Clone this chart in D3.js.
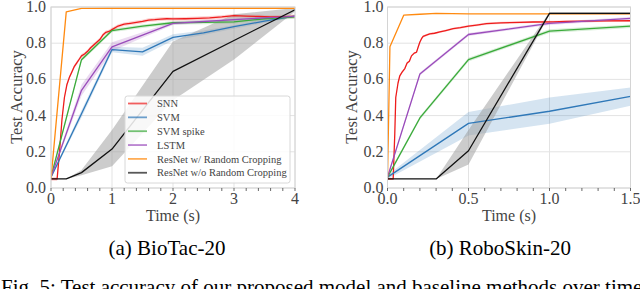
<!DOCTYPE html>
<html><head><meta charset="utf-8">
<script src="https://cdn.jsdelivr.net/npm/d3@7"></script>
<style>body{margin:0;background:#fff}svg{display:block}</style></head>
<body>
<svg id="c" width="640" height="289"></svg>
<script>
// ---------- DATA ----------
const seriesNames = ["SNN", "SVM", "SVM spike", "LSTM", "ResNet w/ Random Cropping", "ResNet w/o Random Cropping"];
const yTicks = [0.0, 0.2, 0.4, 0.6, 0.8, 1.0];
const xTicksA = [0, 1, 2, 3, 4];
const xTicksB = [0.0, 0.5, 1.0, 1.5];
const captions = ["(a) BioTac-20", "(b) RoboSkin-20"];

// Panel A: BioTac-20
const snnA_x = [0, 0.1, 0.14, 0.18, 0.22, 0.26, 0.3, 0.34, 0.38, 0.42, 0.46, 0.5, 0.55, 0.6, 0.65, 0.7, 0.75, 0.8, 0.85, 0.9, 0.95, 1.0, 1.1, 1.2, 1.3, 1.4, 1.5, 1.6, 1.7, 1.8, 1.9, 2.0, 2.2, 2.4, 2.6, 2.8, 3.0, 3.2, 3.4, 3.6, 3.8, 4.0];
const snnA_y = [0.05, 0.05, 0.2, 0.38, 0.5, 0.57, 0.61, 0.64, 0.67, 0.69, 0.71, 0.73, 0.74, 0.755, 0.775, 0.79, 0.805, 0.82, 0.845, 0.86, 0.865, 0.875, 0.895, 0.905, 0.91, 0.915, 0.92, 0.928, 0.93, 0.933, 0.935, 0.934, 0.935, 0.937, 0.94, 0.945, 0.952, 0.95, 0.948, 0.945, 0.947, 0.948];
const stepA_x = [0, 0.5, 1, 1.5, 2, 2.5, 3, 3.5, 4];
const svmA_y = [0.06, 0.41, 0.765, 0.752, 0.832, 0.857, 0.891, 0.922, 0.95];
const svmA_lo = [0.055, 0.39, 0.75, 0.73, 0.815, 0.845, 0.88, 0.912, 0.945];
const svmA_hi = [0.065, 0.43, 0.78, 0.775, 0.85, 0.87, 0.9, 0.932, 0.955];
const spikeA_y = [0.06, 0.709, 0.87, 0.894, 0.913, 0.915, 0.918, 0.935, 0.945];
const lstmA_y = [0.06, 0.54, 0.78, 0.845, 0.91, 0.92, 0.93, 0.94, 0.948];
const lstmA_lo = [0.055, 0.51, 0.755, 0.83, 0.9, 0.912, 0.922, 0.934, 0.944];
const lstmA_hi = [0.065, 0.57, 0.805, 0.86, 0.92, 0.928, 0.938, 0.946, 0.952];
const resA_x = [0, 0.25, 0.5, 1, 1.5, 2, 2.5, 3, 3.5, 4];
const resA_y = [0.05, 0.973, 0.992, 0.993, 0.993, 0.993, 0.993, 0.993, 0.993, 0.993];
const resnoA_x = [0, 0.25, 0.5, 1, 2, 3, 4];
const resnoA_y = [0.05, 0.05, 0.085, 0.215, 0.644, 0.815, 0.985];
const resnoA_lo = [0.05, 0.05, 0.07, 0.12, 0.485, 0.71, 0.975];
const resnoA_hi = [0.05, 0.05, 0.1, 0.32, 0.81, 0.96, 0.995];

// Panel B: RoboSkin-20
const snnB_x = [0, 0.035, 0.045, 0.051, 0.065, 0.076, 0.09, 0.107, 0.121, 0.135, 0.148, 0.165, 0.179, 0.19, 0.2, 0.21, 0.22, 0.24, 0.261, 0.29, 0.323, 0.36, 0.405, 0.45, 0.5, 0.55, 0.611, 0.7, 0.817, 0.9, 1.022, 1.1, 1.228, 1.35, 1.5];
const snnB_y = [0.05, 0.05, 0.3, 0.5, 0.58, 0.62, 0.64, 0.66, 0.69, 0.7, 0.73, 0.745, 0.75, 0.78, 0.807, 0.825, 0.838, 0.845, 0.852, 0.855, 0.862, 0.87, 0.88, 0.886, 0.894, 0.9, 0.908, 0.912, 0.915, 0.917, 0.918, 0.92, 0.922, 0.923, 0.924];
const stepB_x = [0, 0.2, 0.5, 1.0, 1.5];
const svmB_x = [0, 0.5, 1.0, 1.5];
const svmB_y = [0.06, 0.357, 0.424, 0.506];
const svmB_lo = [0.05, 0.29, 0.355, 0.455];
const svmB_hi = [0.07, 0.42, 0.5, 0.555];
const spikeB_y = [0.06, 0.387, 0.709, 0.867, 0.894];
const lstmB_y = [0.06, 0.63, 0.848, 0.909, 0.937];
const resB_x = [0, 0.015, 0.1, 0.2, 0.3, 0.5, 1.0, 1.5];
const resB_y = [0.05, 0.78, 0.955, 0.96, 0.965, 0.962, 0.962, 0.962];
const resnoB_x = [0, 0.3, 0.5, 1.0, 1.5];
const resnoB_y = [0.05, 0.05, 0.206, 0.965, 0.965];
const resnoB_lo = [0.05, 0.05, 0.13, 0.958, 0.958];
const resnoB_hi = [0.05, 0.05, 0.32, 0.972, 0.972];

const colors = ["#ee1c1c", "#2f78b8", "#3aaa3a", "#9a4cbb", "#ff8a10", "#111111"];
// ---------- DRAW ----------
const svg = d3.select("#c");
const serif = "'Liberation Serif', 'Times New Roman', serif";

function zip(xs, ys) { return xs.map((x, i) => [x, ys[i]]); }
function band(xs, lo, hi) { return xs.map((x, i) => [x, lo[i], hi[i]]); }
function pm(ys, d) { return [ys.map(v => v - d), ys.map(v => v + d)]; }

function panel(cfg) {
  const x = d3.scaleLinear().domain(cfg.xDomain).range([cfg.x0, cfg.x1]);
  const y = d3.scaleLinear().domain([0, 1]).range([188, 7]);
  const g = svg.append("g");
  // grid
  g.selectAll(".gx").data(cfg.xTicks).join("line")
    .attr("x1", d => x(d)).attr("x2", d => x(d)).attr("y1", y(0)).attr("y2", y(1))
    .attr("stroke", "#e3e3e3").attr("stroke-width", 1);
  g.selectAll(".gy").data(yTicks).join("line")
    .attr("x1", cfg.x0).attr("x2", cfg.x1).attr("y1", d => y(d)).attr("y2", d => y(d))
    .attr("stroke", "#e3e3e3").attr("stroke-width", 1);
  const area = d3.area().x(d => x(d[0])).y0(d => y(d[1])).y1(d => y(d[2]));
  const line = d3.line().x(d => x(d[0])).y(d => y(d[1]));
  const clip = "clip" + cfg.id;
  svg.append("clipPath").attr("id", clip).append("rect")
    .attr("x", cfg.x0).attr("y", y(1) - 1).attr("width", cfg.x1 - cfg.x0).attr("height", y(0) - y(1) + 2);
  const pg = g.append("g").attr("clip-path", `url(#${clip})`);
  cfg.series.forEach(s => {
    if (s.lo) pg.append("path").datum(band(s.x, s.lo, s.hi)).attr("d", area)
      .attr("fill", s.bandColor || s.color).attr("fill-opacity", s.bandOpacity || 0.2)
      .attr("stroke", "none");
  });
  cfg.series.forEach(s => {
    pg.append("path").datum(zip(s.x, s.y)).attr("d", line)
      .attr("fill", "none").attr("stroke", s.color).attr("stroke-width", 1.3)
      .attr("stroke-linejoin", "round");
  });
  // frame
  g.append("rect").attr("x", cfg.x0).attr("y", y(1)).attr("width", cfg.x1 - cfg.x0)
    .attr("height", y(0) - y(1)).attr("fill", "none").attr("stroke", "#d4d4d4").attr("stroke-width", 1);
  // x axis ticks (major + minor) outward
  const minor = d3.range(cfg.xDomain[0], cfg.xDomain[1] + 1e-9, cfg.minorStep);
  g.selectAll(".mt").data(minor).join("line")
    .attr("x1", d => x(d)).attr("x2", d => x(d)).attr("y1", y(0)).attr("y2", y(0) + 3)
    .attr("stroke", "#444").attr("stroke-width", 0.8);
  g.selectAll(".xl").data(cfg.xTicks).join("text")
    .attr("x", d => x(d)).attr("y", 204).attr("text-anchor", "middle")
    .attr("font-family", serif).attr("font-size", 16).attr("fill", "#444")
    .text(d => cfg.xFmt(d));
  g.selectAll(".yl").data(yTicks).join("text")
    .attr("x", cfg.x0 - cfg.yPad).attr("y", d => y(d) + 5).attr("text-anchor", "end")
    .attr("font-family", serif).attr("font-size", 16).attr("fill", "#444")
    .text(d => d3.format(".1f")(d));
  g.append("text").attr("x", (cfg.x0 + cfg.x1) / 2).attr("y", 221).attr("text-anchor", "middle")
    .attr("font-family", serif).attr("font-size", 16).attr("fill", "#444").text("Time (s)");
  g.append("text").attr("transform", `translate(${cfg.ylabX},97) rotate(-90)`)
    .attr("text-anchor", "middle").attr("font-family", serif).attr("font-size", 16.5)
    .attr("fill", "#444").text("Test Accuracy");
  g.append("text").attr("x", cfg.capX).attr("y", 255).attr("text-anchor", "middle")
    .attr("font-family", serif).attr("font-size", 21).attr("fill", "#000").text(cfg.caption);
  return { x, y, g };
}

const [spA_lo, spA_hi] = pm(spikeA_y, 0.01);
const [snA_lo, snA_hi] = pm(snnA_y, 0.01);
const A = panel({
  id: "A", xDomain: [0, 4], x0: 51, x1: 295, xTicks: xTicksA, minorStep: 0.2,
  xFmt: d3.format("d"), yPad: 5, ylabX: 22, capX: 167, caption: captions[0],
  series: [
    { x: snnA_x, y: snnA_y, lo: snA_lo, hi: snA_hi, color: colors[0] },
    { x: stepA_x, y: svmA_y, lo: svmA_lo, hi: svmA_hi, color: colors[1] },
    { x: stepA_x, y: spikeA_y, lo: spA_lo, hi: spA_hi, color: colors[2] },
    { x: stepA_x, y: lstmA_y, lo: lstmA_lo, hi: lstmA_hi, color: colors[3] },
    { x: resA_x, y: resA_y, color: colors[4] },
    { x: resnoA_x, y: resnoA_y, lo: resnoA_lo, hi: resnoA_hi, color: colors[5], bandColor: "#9a9a9a", bandOpacity: 0.5 }
  ]
});

const [spB_lo, spB_hi] = pm(spikeB_y, 0.01);
const [lsB_lo, lsB_hi] = pm(lstmB_y, 0.008);
const [snB_lo, snB_hi] = pm(snnB_y, 0.006);
panel({
  id: "B", xDomain: [0, 1.5], x0: 387.5, x1: 630.5, xTicks: xTicksB, minorStep: 0.1,
  xFmt: d3.format(".1f"), yPad: 4, ylabX: 357, capX: 500, caption: captions[1],
  series: [
    { x: snnB_x, y: snnB_y, lo: snB_lo, hi: snB_hi, color: colors[0] },
    { x: svmB_x, y: svmB_y, lo: svmB_lo, hi: svmB_hi, color: colors[1] },
    { x: stepB_x, y: spikeB_y, lo: spB_lo, hi: spB_hi, color: colors[2] },
    { x: stepB_x, y: lstmB_y, lo: lsB_lo, hi: lsB_hi, color: colors[3] },
    { x: resB_x, y: resB_y, color: colors[4] },
    { x: resnoB_x, y: resnoB_y, lo: resnoB_lo, hi: resnoB_hi, color: colors[5], bandColor: "#9a9a9a", bandOpacity: 0.5 }
  ]
});

// legend (panel A)
const lg = svg.append("g");
lg.append("rect").attr("x", 125).attr("y", 96).attr("width", 165).attr("height", 87)
  .attr("rx", 2.5).attr("fill", "#fff").attr("fill-opacity", 0.85)
  .attr("stroke", "#d8d8d8").attr("stroke-width", 1);
seriesNames.forEach((n, i) => {
  const yy = 103.5 + i * 13.85;
  lg.append("line").attr("x1", 128).attr("x2", 147).attr("y1", yy).attr("y2", yy)
    .attr("stroke", colors[i]).attr("stroke-width", 1.8).attr("stroke-opacity", 0.7);
  lg.append("text").attr("x", 157).attr("y", yy + 3.6).attr("font-family", serif)
    .attr("font-size", 10.5).attr("fill", "#444").text(n);
});

// figure caption (cut off at bottom)
svg.append("text").attr("x", 1).attr("y", 294).attr("font-family", serif)
  .attr("font-size", 21).attr("fill", "#000")
  .text("Fig. 5: Test accuracy of our proposed model and baseline methods over time.");
</script>
</body></html>
